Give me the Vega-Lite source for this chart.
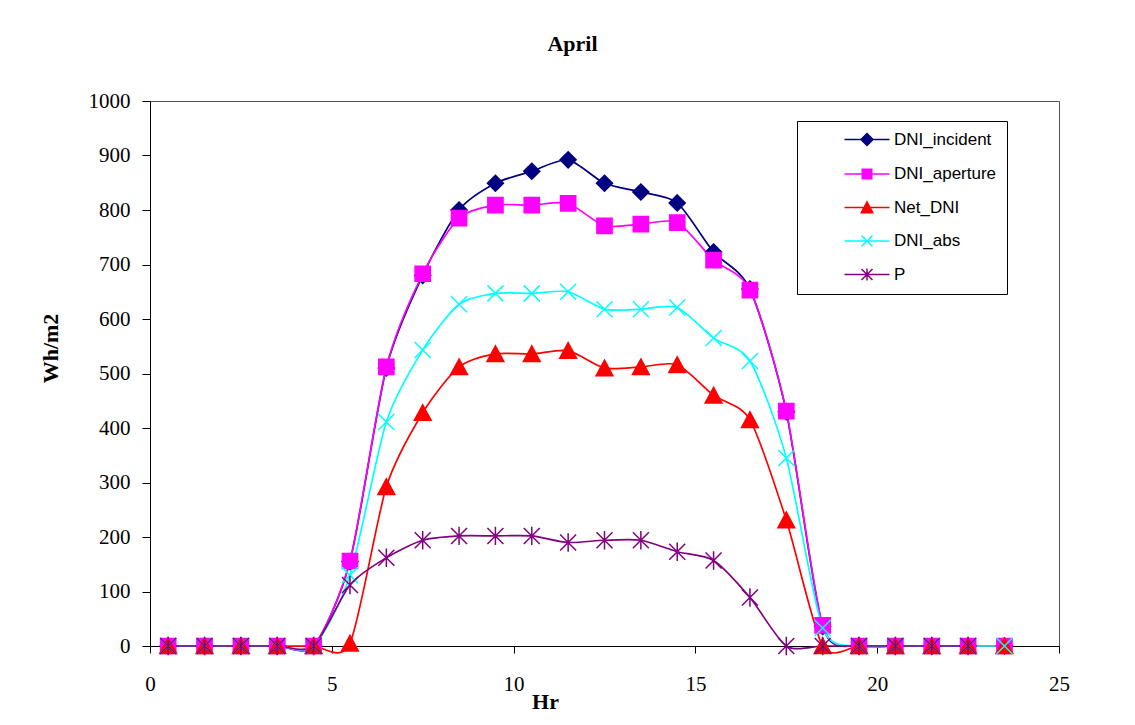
{
  "$schema": "https://vega.github.io/schema/vega-lite/v6.json",
  "width": 909,
  "height": 545,
  "autosize": "none",
  "padding": {"left": 150, "top": 101, "right": 76, "bottom": 79},
  "background": "white",
  "title": {"text": "April", "font": "Liberation Serif", "fontSize": 22, "fontWeight": "bold", "color": "black", "anchor": "middle", "dx": -32, "baseline": "alphabetic", "offset": 17},
  "data": {"values": [
    {"hr":0.5,"series":"DNI_incident","v":0},{"hr":1.5,"series":"DNI_incident","v":0},{"hr":2.5,"series":"DNI_incident","v":0},{"hr":3.5,"series":"DNI_incident","v":0},{"hr":4.5,"series":"DNI_incident","v":0},{"hr":5.5,"series":"DNI_incident","v":155},{"hr":6.5,"series":"DNI_incident","v":510},{"hr":7.5,"series":"DNI_incident","v":680},{"hr":8.5,"series":"DNI_incident","v":800},{"hr":9.5,"series":"DNI_incident","v":849},{"hr":10.5,"series":"DNI_incident","v":871},{"hr":11.5,"series":"DNI_incident","v":892},{"hr":12.5,"series":"DNI_incident","v":849},{"hr":13.5,"series":"DNI_incident","v":833},{"hr":14.5,"series":"DNI_incident","v":813},{"hr":15.5,"series":"DNI_incident","v":723},{"hr":16.5,"series":"DNI_incident","v":655},{"hr":17.5,"series":"DNI_incident","v":430},{"hr":18.5,"series":"DNI_incident","v":36},{"hr":19.5,"series":"DNI_incident","v":0},{"hr":20.5,"series":"DNI_incident","v":0},{"hr":21.5,"series":"DNI_incident","v":0},{"hr":22.5,"series":"DNI_incident","v":0},{"hr":23.5,"series":"DNI_incident","v":0},
    {"hr":0.5,"series":"DNI_aperture","v":0},{"hr":1.5,"series":"DNI_aperture","v":0},{"hr":2.5,"series":"DNI_aperture","v":0},{"hr":3.5,"series":"DNI_aperture","v":0},{"hr":4.5,"series":"DNI_aperture","v":0},{"hr":5.5,"series":"DNI_aperture","v":156},{"hr":6.5,"series":"DNI_aperture","v":512},{"hr":7.5,"series":"DNI_aperture","v":683},{"hr":8.5,"series":"DNI_aperture","v":785},{"hr":9.5,"series":"DNI_aperture","v":809},{"hr":10.5,"series":"DNI_aperture","v":809},{"hr":11.5,"series":"DNI_aperture","v":812},{"hr":12.5,"series":"DNI_aperture","v":771},{"hr":13.5,"series":"DNI_aperture","v":774},{"hr":14.5,"series":"DNI_aperture","v":777},{"hr":15.5,"series":"DNI_aperture","v":708},{"hr":16.5,"series":"DNI_aperture","v":653},{"hr":17.5,"series":"DNI_aperture","v":431},{"hr":18.5,"series":"DNI_aperture","v":38},{"hr":19.5,"series":"DNI_aperture","v":0},{"hr":20.5,"series":"DNI_aperture","v":0},{"hr":21.5,"series":"DNI_aperture","v":0},{"hr":22.5,"series":"DNI_aperture","v":0},{"hr":23.5,"series":"DNI_aperture","v":0},
    {"hr":0.5,"series":"Net_DNI","v":0},{"hr":1.5,"series":"Net_DNI","v":0},{"hr":2.5,"series":"Net_DNI","v":0},{"hr":3.5,"series":"Net_DNI","v":0},{"hr":4.5,"series":"Net_DNI","v":0},{"hr":5.5,"series":"Net_DNI","v":5},{"hr":6.5,"series":"Net_DNI","v":292},{"hr":7.5,"series":"Net_DNI","v":428},{"hr":8.5,"series":"Net_DNI","v":512},{"hr":9.5,"series":"Net_DNI","v":536},{"hr":10.5,"series":"Net_DNI","v":536},{"hr":11.5,"series":"Net_DNI","v":542},{"hr":12.5,"series":"Net_DNI","v":510},{"hr":13.5,"series":"Net_DNI","v":512},{"hr":14.5,"series":"Net_DNI","v":516},{"hr":15.5,"series":"Net_DNI","v":460},{"hr":16.5,"series":"Net_DNI","v":415},{"hr":17.5,"series":"Net_DNI","v":231},{"hr":18.5,"series":"Net_DNI","v":0},{"hr":19.5,"series":"Net_DNI","v":0},{"hr":20.5,"series":"Net_DNI","v":0},{"hr":21.5,"series":"Net_DNI","v":0},{"hr":22.5,"series":"Net_DNI","v":0},{"hr":23.5,"series":"Net_DNI","v":0},
    {"hr":0.5,"series":"DNI_abs","v":0},{"hr":1.5,"series":"DNI_abs","v":0},{"hr":2.5,"series":"DNI_abs","v":0},{"hr":3.5,"series":"DNI_abs","v":0},{"hr":4.5,"series":"DNI_abs","v":0},{"hr":5.5,"series":"DNI_abs","v":130},{"hr":6.5,"series":"DNI_abs","v":411},{"hr":7.5,"series":"DNI_abs","v":543},{"hr":8.5,"series":"DNI_abs","v":627},{"hr":9.5,"series":"DNI_abs","v":647},{"hr":10.5,"series":"DNI_abs","v":647},{"hr":11.5,"series":"DNI_abs","v":650},{"hr":12.5,"series":"DNI_abs","v":618},{"hr":13.5,"series":"DNI_abs","v":618},{"hr":14.5,"series":"DNI_abs","v":621},{"hr":15.5,"series":"DNI_abs","v":565},{"hr":16.5,"series":"DNI_abs","v":523},{"hr":17.5,"series":"DNI_abs","v":345},{"hr":18.5,"series":"DNI_abs","v":33},{"hr":19.5,"series":"DNI_abs","v":0},{"hr":20.5,"series":"DNI_abs","v":0},{"hr":21.5,"series":"DNI_abs","v":0},{"hr":22.5,"series":"DNI_abs","v":0},{"hr":23.5,"series":"DNI_abs","v":0},
    {"hr":0.5,"series":"P","v":0},{"hr":1.5,"series":"P","v":0},{"hr":2.5,"series":"P","v":0},{"hr":3.5,"series":"P","v":0},{"hr":4.5,"series":"P","v":0},{"hr":5.5,"series":"P","v":112},{"hr":6.5,"series":"P","v":162},{"hr":7.5,"series":"P","v":194},{"hr":8.5,"series":"P","v":202},{"hr":9.5,"series":"P","v":202},{"hr":10.5,"series":"P","v":202},{"hr":11.5,"series":"P","v":190},{"hr":12.5,"series":"P","v":194},{"hr":13.5,"series":"P","v":194},{"hr":14.5,"series":"P","v":173},{"hr":15.5,"series":"P","v":157},{"hr":16.5,"series":"P","v":89},{"hr":17.5,"series":"P","v":0},{"hr":18.5,"series":"P","v":0},{"hr":19.5,"series":"P","v":0},{"hr":20.5,"series":"P","v":0},{"hr":21.5,"series":"P","v":0},{"hr":22.5,"series":"P","v":0}
  ]},
  "encoding": {
    "x": {"field": "hr", "type": "quantitative", "scale": {"domain": [0, 25], "nice": false, "zero": false},
      "axis": {"values": [0, 5, 10, 15, 20, 25], "labelFlush": false, "title": "Hr", "tickSize": 7, "labelPadding": 20, "titleX": 395, "titleY": 62, "titleBaseline": "alphabetic", "titleAlign": "center"}},
    "y": {"field": "v", "type": "quantitative", "scale": {"domain": [0, 1000], "nice": false},
      "axis": {"values": [0, 100, 200, 300, 400, 500, 600, 700, 800, 900, 1000], "format": "d", "title": "Wh/m2", "tickSize": 8, "labelPadding": 12, "titleX": -100, "titleY": 247, "titleAngle": -90, "titleBaseline": "middle", "titleAlign": "center"}}
  },
  "layer": [
    {"mark": {"type": "line", "interpolate": "cardinal", "tension": 0.25, "strokeWidth": 1.7},
      "encoding": {
        "color": {"field": "series", "type": "nominal",
          "scale": {"domain": ["DNI_incident", "DNI_aperture", "Net_DNI", "DNI_abs", "P"], "range": ["#000080", "#FF00FF", "#FF0000", "#00FFFF", "#800080"]},
          "legend": {"title": null, "orient": "none", "legendX": 647, "legendY": 20, "direction": "vertical", "strokeColor": "black", "fillColor": "white", "padding": 10,
            "labelFont": "Liberation Sans", "labelFontSize": 17, "labelColor": "black", "symbolSize": 100, "symbolStrokeWidth": 1.5, "symbolOffset": 51.5, "labelOffset": 18.5, "rowPadding": 15.5,
            "encode": {"symbols": {"update": {
              "shape": {"signal": "datum.value === 'DNI_incident' ? 'M-4.5,0H4.5M0,-1.2L1.2,0L0,1.2L-1.2,0Z' : datum.value === 'DNI_aperture' ? 'M-4.5,0H4.5M-0.95,-0.95H0.95V0.95H-0.95Z' : datum.value === 'Net_DNI' ? 'M-4.5,0H4.5M0,-1.15L1.15,1.05L-1.15,1.05Z' : datum.value === 'DNI_abs' ? 'M-4.5,0H4.5M-1.1,-1.1L1.1,1.1M-1.1,1.1L1.1,-1.1' : 'M-4.5,0H4.5M-1.1,-1.1L1.1,1.1M-1.1,1.1L1.1,-1.1M0,-1.2V1.2'"},
              "fill": {"scale": "color", "field": "value"},
              "stroke": {"scale": "color", "field": "value"},
              "strokeWidth": {"value": 1.5},
              "opacity": {"value": 1}
            }}}}}
      }},
    {"transform": [{"filter": "datum.series === 'DNI_incident'"}],
      "mark": {"type": "point", "shape": "M0,-1L1,0L0,1L-1,0Z", "filled": true, "color": "#000080", "stroke": "#000080", "size": 256, "strokeWidth": 1.5, "opacity": 1}},
    {"transform": [{"filter": "datum.series === 'DNI_aperture'"}],
      "mark": {"type": "point", "shape": "M-0.95,-0.95H0.95V0.95H-0.95Z", "filled": true, "color": "#FF00FF", "stroke": "#FF00FF", "size": 256, "strokeWidth": 1.5, "opacity": 1}},
    {"transform": [{"filter": "datum.series === 'Net_DNI'"}],
      "mark": {"type": "point", "shape": "M0,-1L1.05,0.95L-1.05,0.95Z", "filled": true, "color": "#FF0000", "stroke": "#FF0000", "size": 256, "strokeWidth": 1.5, "opacity": 1}},
    {"transform": [{"filter": "datum.series === 'DNI_abs'"}],
      "mark": {"type": "point", "shape": "M-1,-1L1,1M-1,1L1,-1", "filled": true, "color": "#00FFFF", "stroke": "#00FFFF", "size": 256, "strokeWidth": 1.5, "opacity": 1}},
    {"transform": [{"filter": "datum.series === 'P'"}],
      "mark": {"type": "point", "shape": "M-1,-1L1,1M-1,1L1,-1M0,-1.15V1.15", "filled": true, "color": "#800080", "stroke": "#800080", "size": 256, "strokeWidth": 1.5, "opacity": 1}}
  ],
  "config": {
    "view": {"stroke": "#555555", "strokeWidth": 1},
    "axis": {"labelFont": "Liberation Serif", "labelFontSize": 21, "labelColor": "black", "titleFont": "Liberation Serif", "titleFontSize": 22, "titleFontWeight": "bold", "titleColor": "black", "domainColor": "black", "tickColor": "black", "grid": false}
  }
}
